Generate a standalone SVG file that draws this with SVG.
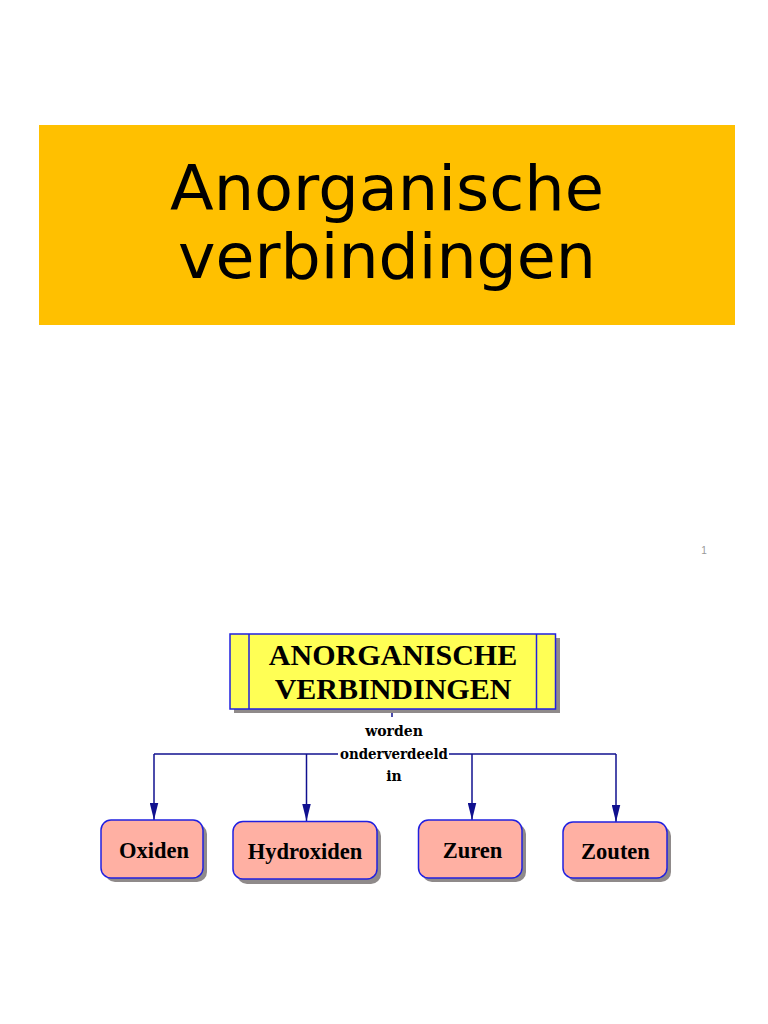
<svg xmlns="http://www.w3.org/2000/svg" width="768" height="1024" viewBox="0 0 768 1024">
<style>
.title{font-family:"DejaVu Sans",sans-serif;font-size:63px;fill:#000;text-anchor:middle}
.head{font-family:"Liberation Serif",serif;font-weight:bold;font-size:30px;fill:#000;text-anchor:middle}
.lbl{font-family:"DejaVu Serif",serif;font-weight:bold;font-size:14px;fill:#000;text-anchor:middle}
.node{font-family:"Liberation Serif",serif;font-weight:bold;font-size:22.5px;fill:#000;text-anchor:middle}
.box{fill:#FFB0A3;stroke:#2020E0;stroke-width:1.5}
.shadow{fill:#8f8a8a}
.con{stroke:#10108F;stroke-width:1.5;fill:none}
</style>
<defs>
<marker id="arrow" viewBox="0 0 16 8" refX="16" refY="4" markerWidth="17" markerHeight="9" markerUnits="userSpaceOnUse" orient="auto">
<path d="M0,0 L16,4 L0,8 z" fill="#10108F"/>
</marker>
</defs>
<rect width="768" height="1024" fill="#fff"/>
<g id="title">
<rect x="39" y="125" width="696" height="200" fill="#FFC000"/>
<text class="title" x="387" y="210" textLength="434" lengthAdjust="spacingAndGlyphs">Anorganische</text>
<text class="title" x="387" y="278" textLength="418" lengthAdjust="spacingAndGlyphs">verbindingen</text>
</g>
<text x="704" y="554" font-family="Liberation Sans, sans-serif" font-size="10" fill="#999" text-anchor="middle">1</text>
<g id="connectors">
<line class="con" x1="392" y1="709" x2="392" y2="717"/>
<line class="con" x1="154" y1="754" x2="338" y2="754"/>
<line class="con" x1="449" y1="754" x2="616" y2="754"/>
<line class="con" x1="154" y1="754" x2="154" y2="820" marker-end="url(#arrow)"/>
<line class="con" x1="306.5" y1="754" x2="306.5" y2="821" marker-end="url(#arrow)"/>
<line class="con" x1="472" y1="754" x2="472" y2="820" marker-end="url(#arrow)"/>
<line class="con" x1="616" y1="754" x2="616" y2="822" marker-end="url(#arrow)"/>
<text class="lbl" x="394" y="736">worden</text>
<text class="lbl" x="394" y="759" textLength="108" lengthAdjust="spacingAndGlyphs">onderverdeeld</text>
<text class="lbl" x="394" y="781">in</text>
</g>
<g id="head">
<rect class="shadow" x="234" y="638" width="326" height="75"/>
<rect x="230" y="634" width="325.5" height="75" fill="#FFFF55" stroke="#2020E0" stroke-width="1.5"/>
<line x1="249" y1="634" x2="249" y2="709" stroke="#2020E0" stroke-width="1.5"/>
<line x1="536.5" y1="634" x2="536.5" y2="709" stroke="#2020E0" stroke-width="1.5"/>
<text class="head" x="393" y="665">ANORGANISCHE</text>
<text class="head" x="393" y="699">VERBINDINGEN</text>
</g>
<g id="oxiden">
<rect class="shadow" x="105" y="824" width="102" height="58" rx="10"/>
<rect class="box" x="101" y="820" width="102" height="58" rx="10"/>
<text class="node" x="154" y="858">Oxiden</text>
</g>
<g id="hydroxiden">
<rect class="shadow" x="237" y="826" width="144" height="58" rx="10"/>
<rect class="box" x="233" y="821.5" width="144" height="57.5" rx="10"/>
<text class="node" x="305" y="859">Hydroxiden</text>
</g>
<g id="zuren">
<rect class="shadow" x="422" y="824" width="104" height="58" rx="10"/>
<rect class="box" x="418.5" y="820" width="103.5" height="58" rx="10"/>
<text class="node" x="472.5" y="858">Zuren</text>
</g>
<g id="zouten">
<rect class="shadow" x="567" y="826" width="104" height="56" rx="10"/>
<rect class="box" x="563" y="822" width="104" height="56" rx="10"/>
<text class="node" x="615.5" y="859">Zouten</text>
</g>
</svg>
